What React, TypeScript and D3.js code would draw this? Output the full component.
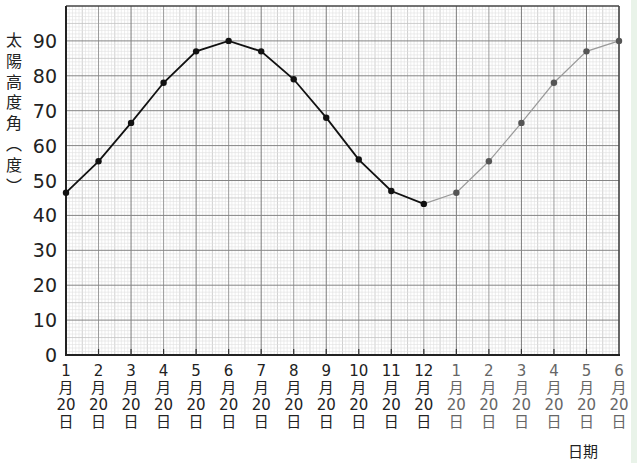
import React from "react";
import * as d3 from "d3";

const months1 = ["1", "2", "3", "4", "5", "6", "7", "8", "9", "10", "11", "12"];
const months2 = ["1", "2", "3", "4", "5", "6"];
const firstYear = [46.5, 55.5, 66.5, 78, 87, 90, 87, 79, 68, 56, 47, 43.3];
const nextYear = [43.3, 46.5, 55.5, 66.5, 78, 87, 90];
const yTicks = [0, 10, 20, 30, 40, 50, 60, 70, 80, 90];

const W = 637, H = 463;
const L = 66, R = 619, T = 6, B = 355;

export default function App() {
  const n = months1.length + months2.length;
  const x = d3.scaleLinear().domain([0, n - 1]).range([L, R]);
  const y = d3.scaleLinear().domain([0, 100]).range([B, T]);

  const minorX = d3.range(0, (n - 1) * 10 + 1).map((i) => i / 10);
  const minorY = d3.range(0, 101);

  const p1 = firstYear.map((v, i) => [x(i), y(v)] as [number, number]);
  const p2 = nextYear.map((v, i) => [x(i + 11), y(v)] as [number, number]);
  const line = d3.line();

  const labels = [
    ...months1.map((m, i) => ({ m, i, grey: false })),
    ...months2.map((m, i) => ({ m, i: i + 12, grey: true })),
  ];

  return (
    <svg width={W} height={H} style={{ position: "absolute", left: 0, top: 0, background: "#fff" }}>
      <rect x={0} y={0} width={W} height={H} fill="#ffffff" />
      <rect x={631} y={0} width={6} height={H} fill="#e9f3e9" />
      {/* minor vertical grid */}
      {minorX.map((v, i) => {
        const isMonth = i % 10 === 0;
        const isHalf = i % 5 === 0;
        if (isMonth) return null;
        return (
          <line key={"vx" + i} x1={x(v)} x2={x(v)} y1={T} y2={B}
            stroke={isHalf ? "#c4c4c4" : "#e0e0e0"} strokeWidth={isHalf ? 0.8 : 0.6} />
        );
      })}
      {minorY.map((v) => {
        if (v % 10 === 0) return null;
        const isHalf = v % 5 === 0;
        return (
          <line key={"hy" + v} x1={L} x2={R} y1={y(v)} y2={y(v)}
            stroke={isHalf ? "#c4c4c4" : "#e0e0e0"} strokeWidth={isHalf ? 0.8 : 0.6} />
        );
      })}
      {/* major grid */}
      {d3.range(0, n).map((i) => (
        <line key={"mx" + i} x1={x(i)} x2={x(i)} y1={T} y2={B}
          stroke={i % 2 === 0 ? "#7a7a7a" : "#9c9c9c"} strokeWidth={1} />
      ))}
      {yTicks.map((v) => (
        <line key={"my" + v} x1={L} x2={R} y1={y(v)} y2={y(v)} stroke="#858585" strokeWidth={1} />
      ))}
      {/* frame */}
      <line x1={L} x2={R} y1={T} y2={T} stroke="#444" strokeWidth={1.5} />
      <line x1={R} x2={R} y1={T} y2={B} stroke="#444" strokeWidth={1.5} />
      <line x1={L} x2={L} y1={T} y2={B + 1} stroke="#222" strokeWidth={2} />
      <line x1={L - 1} x2={R + 1} y1={B} y2={B} stroke="#222" strokeWidth={2} />
      {d3.range(1, n - 1).map((i) => (
        <line key={"tk" + i} x1={x(i)} x2={x(i)} y1={B} y2={B - 6} stroke="#333" strokeWidth={1.2} />
      ))}
      {/* y tick labels */}
      {yTicks.map((v) => (
        <text key={"yl" + v} x={57} y={y(v) + 7} textAnchor="end" fontFamily="DejaVu Sans"
          fontSize={19} fill="#222">{v}</text>
      ))}
      {/* y axis title */}
      <text x={14} y={32} fontFamily="Noto Sans CJK TC" fontSize={16} fill="#222"
        style={{ writingMode: "vertical-rl" as any, letterSpacing: "4.8px" }}>太陽高度角（度）</text>
      {/* series */}
      <path d={line(p2) || ""} fill="none" stroke="#9a9a9a" strokeWidth={1.2} />
      {p2.slice(1).map((p, i) => (
        <circle key={"c2" + i} cx={p[0]} cy={p[1]} r={3.2} fill="#555" />
      ))}
      <path d={line(p1) || ""} fill="none" stroke="#111" strokeWidth={1.8} />
      {p1.map((p, i) => (
        <circle key={"c1" + i} cx={p[0]} cy={p[1]} r={3.2} fill="#111" />
      ))}
      {/* x labels */}
      {labels.map((d) => (
        <text key={"xl" + d.i} fill={d.grey ? "#666" : "#222"} fontFamily="DejaVu Sans, Noto Sans CJK TC"
          textAnchor="middle" fontSize={15} y={376}>
          <tspan x={x(d.i)} y={376}>{d.m}</tspan>
          <tspan x={x(d.i)} y={393}>月</tspan>
          <tspan x={x(d.i)} y={410}>20</tspan>
          <tspan x={x(d.i)} y={427}>日</tspan>
        </text>
      ))}
      <text x={583} y={457} textAnchor="middle" fontFamily="Noto Sans CJK TC" fontSize={15} fill="#222">日期</text>
    </svg>
  );
}
